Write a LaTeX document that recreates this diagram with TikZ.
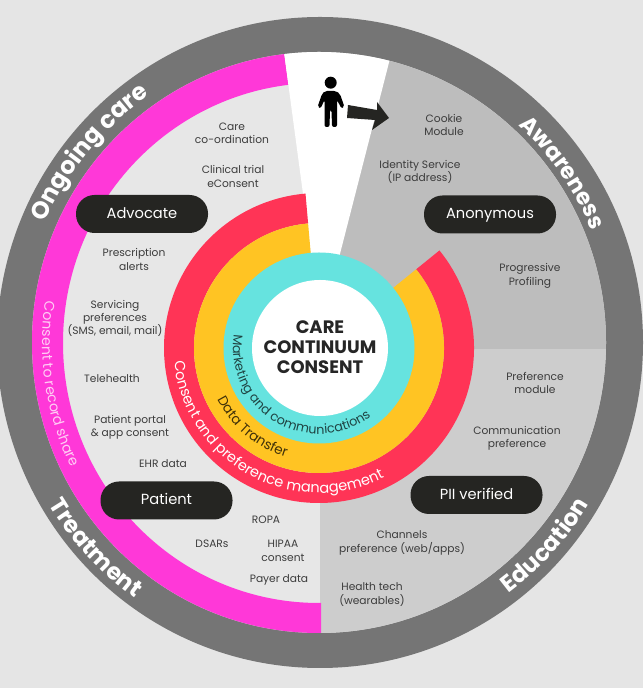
\documentclass[tikz,border=0pt]{standalone}
\usepackage{fontspec}
\usetikzlibrary{decorations.text}
\newfontfamily\pop{Poppins}
\definecolor{bgc}{HTML}{E5E5E5}
\definecolor{bandc}{HTML}{757575}
\definecolor{lightc}{HTML}{E7E7E7}
\definecolor{upperc}{HTML}{BDBDBD}
\definecolor{lowerc}{HTML}{CDCDCD}
\definecolor{pinkc}{HTML}{FF38D8}
\definecolor{redc}{HTML}{FF3456}
\definecolor{yelc}{HTML}{FFC423}
\definecolor{cyanc}{HTML}{66E3DF}
\definecolor{pillc}{HTML}{252522}
\definecolor{txtc}{HTML}{3C3C3C}
\tikzset{
  pill/.style={fill=pillc,rounded corners=18.5*0.75pt,minimum width=132*0.75pt,minimum height=38*0.75pt,inner sep=0pt,text=white,text height=8pt,text depth=1.8pt,font=\pop\fontsize{11}{12}\selectfont},
  item/.style={text=txtc,align=center,inner sep=0pt,font=\pop\fontsize{8}{10.05}\selectfont},
  arctext/.style n args={3}{decorate,decoration={text along path,text={|\pop#3\selectfont|#1},text color=#2,text align=center}},
}
\begin{document}
\begin{tikzpicture}[x=0.75pt,y=0.75pt]
\useasboundingbox (0,0) rectangle (643,688);
\fill[bgc] (0,0) rectangle (643,688);
% outer band
\fill[bandc] (320,345.5) ellipse [x radius=323,y radius=325.5];
% inner disc with its sectors
\begin{scope}
  \clip (319,345.5) ellipse [x radius=287,y radius=290.5];
  \fill[lightc] (0,0) rectangle (643,688);
  \fill[upperc] (321,360) -- (400,688) -- (643,688) -- (643,339) -- (321,339) -- cycle;
  \fill[lowerc] (320,0) rectangle (643,339);
  \begin{scope}
    \clip (0,0) -- (321,0) -- (321,360) -- (277,688) -- (0,688) -- cycle;
    \fill[pinkc,even odd rule] (319,345.5) ellipse [x radius=288,y radius=291.5]
       (319,345) ellipse [x radius=256,y radius=260];
  \end{scope}
  \fill[white] (321,360) -- (405,688) -- (277,688) -- cycle;
\end{scope}
% central rings
\begin{scope}[shift={(319,340)}]
  \fill[redc] (95:155) arc[start angle=95,end angle=399,radius=155] -- (399:125) arc[start angle=399,end angle=95,radius=125] -- cycle;
  \fill[yelc] (95:125) arc[start angle=95,end angle=399,radius=125] -- (399:95) arc[start angle=399,end angle=95,radius=95] -- cycle;
  \fill[cyanc] (0,0) circle[radius=95.5];
  \fill[white] (1,0) circle[radius=68];
  \path[arctext={Consent and preference management}{white}{\fontsize{10.9}{12}}] (178:145) arc[start angle=178,end angle=304,radius=145];
  \path[arctext={Data Transfer}{black!75!yelc}{\fontsize{10.2}{12}}] (204:114) arc[start angle=204,end angle=256,radius=114];
  \path[arctext={Marketing and communications}{black!70!cyanc}{\fontsize{9.6}{12}}] (164:86) arc[start angle=164,end angle=314,radius=86];
\end{scope}
\path[arctext={Consent to record share}{white!75!pinkc}{\fontsize{10.6}{12}}] (319,345) ++(165:277) arc[start angle=165,end angle=213,radius=277];
\path[arctext={Ongoing care}{white}{\bfseries\fontsize{18}{20}}] (320,345.5) ++(159:300) arc[start angle=159,end angle=122,radius=300];
\path[arctext={Awareness}{white}{\bfseries\fontsize{17}{20}}] (320,345.5) ++(52:294) arc[start angle=52,end angle=18,radius=294];
\path[arctext={Education}{white}{\bfseries\fontsize{17.5}{20}}] (320,345.5) ++(-58:314) arc[start angle=-58,end angle=-26,radius=314];
\path[arctext={Treatment}{white}{\bfseries\fontsize{17.5}{20}}] (320,345.5) ++(207:316) arc[start angle=207,end angle=238,radius=316];
% centre title
\node[inner sep=0pt,align=center,text=black!85,font=\pop\bfseries\fontsize{13.5}{15}\selectfont] (title) at (320,341) {CARE\\CONTINUUM\\CONSENT};
% person
\fill[black] (330.7,605.3) circle[radius=6];
\fill[black,rounded corners=1.5pt] (325,597) -- (336,597) -- (340,594) -- (344.5,581) -- (341.5,579.5) -- (337,588) -- (337,561) -- (332,561) -- (331.5,578) -- (330,578) -- (329.5,561) -- (324.5,561) -- (324.5,588) -- (320.5,579.5) -- (317.5,581) -- (322,594) -- cycle;
% arrow
\fill[pillc] (348,583) -- (377,578) -- (377,586) -- (389,570) -- (372,558) -- (375,568) -- (347,570) -- cycle;
% stage pills
\node[pill] (advocate) at (142,474) {Advocate};
\node[pill] (anonymous) at (490,473.5) {Anonymous};
\node[pill] (patient) at (166.5,187.5) {Patient};
\node[pill] (pii) at (476.5,193) {PII verified};
% items
\node[item] (care) at (232,554.5) {Care\\co-ordination};
\node[item] (trial) at (233,511.5) {Clinical trial\\eConsent};
\node[item] (presc) at (134,428.5) {Prescription\\alerts};
\node[item] (serv) at (115,369.5) {Servicing\\preferences\\(SMS, email, mail)};
\node[item] (tele) at (112,309) {Telehealth};
\node[item] (portal) at (130,260.5) {Patient portal\\\& app consent};
\node[item] (ehr) at (163,224) {EHR data};
\node[item] (ropa) at (266,168) {ROPA};
\node[item] (dsars) at (212,144) {DSARs};
\node[item] (hipaa) at (283,137) {HIPAA\\consent};
\node[item] (payer) at (279,108.5) {Payer data};
\node[item] (cookie) at (444,563) {Cookie\\Module};
\node[item] (identity) at (420,516.2) {Identity Service\\(IP address)};
\node[item] (prog) at (530,412) {Progressive\\Profiling};
\node[item] (prefm) at (535,305) {Preference\\module};
\node[item] (comm) at (517,249.8) {Communication\\preference};
\node[item] (chan) at (402,145) {Channels\\preference (web/apps)};
\node[item] (health) at (372,93.5) {Health tech\\(wearables)};
\end{tikzpicture}
\end{document}
